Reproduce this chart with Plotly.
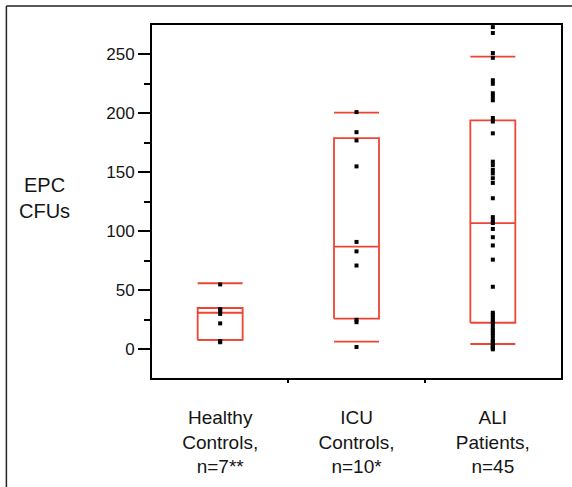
import plotly.graph_objects as go

categories = ["Healthy<br>Controls,<br>n=7**", "ICU<br>Controls,<br>n=10*", "ALI<br>Patients,<br>n=45"]

healthy_vals = [55, 34, 33, 30, 22, 7, 6]
icu_vals = [201, 184, 177, 155, 91, 83, 71, 25, 23, 2]
ali_vals = [273, 268, 251, 247, 228, 225, 217, 214, 211, 196, 193, 183,
            159, 156, 152, 149, 145, 141, 128, 112, 109, 107, 102, 95, 88,
            76, 53, 31, 29, 27, 25, 23, 21, 18, 16, 14, 12, 9, 7, 6, 4, 3, 2, 1, 0]

# box statistics
q1 = [8, 26, 22.5]
median = [31, 87, 107]
q3 = [35, 179, 194]
cap_low = [8, 6.5, 4.5]
cap_high = [56, 200.5, 248]

y_ticks = [0, 50, 100, 150, 200, 250]

RED = "#ee4433"
FONT = "Liberation Sans, Arial, Helvetica"
half = 0.165

fig = go.Figure()

groups = [healthy_vals, icu_vals, ali_vals]
for i in range(3):
    c = i
    xs = [c - half, c + half, c + half, c - half, c - half, None,
          c - half, c + half, None,
          c - half, c + half, None,
          c - half, c + half]
    ys = [q1[i], q1[i], q3[i], q3[i], q1[i], None,
          median[i], median[i], None,
          cap_high[i], cap_high[i], None,
          cap_low[i], cap_low[i]]
    fig.add_trace(go.Scatter(x=xs, y=ys, mode="lines",
                             line=dict(color=RED, width=1.8),
                             hoverinfo="skip", showlegend=False))

for i, vals in enumerate(groups):
    fig.add_trace(go.Scatter(x=[i] * len(vals), y=vals, mode="markers",
                             marker=dict(symbol="square", size=4, color="black",
                                         line=dict(width=0)),
                             showlegend=False, cliponaxis=True))

fig.update_xaxes(range=[-0.5, 2.5], tickmode="array", tickvals=[0, 1, 2],
                 ticktext=categories, ticks="", showgrid=False, zeroline=False,
                 showline=True, linecolor="black", linewidth=2, mirror=True,
                 automargin=False,
                 tickfont=dict(family=FONT, size=19, color="#151515"),
                 ticklabelstandoff=21,
                 minor=dict(tickmode="array", tickvals=[0.5, 1.5], ticks="outside",
                            ticklen=3, tickwidth=1.5, tickcolor="black"))
fig.update_yaxes(range=[-24.3, 274.8], tickmode="array", tickvals=y_ticks,
                 ticks="outside", ticklen=12, tickwidth=2, tickcolor="black",
                 showgrid=False, zeroline=False, automargin=False,
                 showline=True, linecolor="black", linewidth=2, mirror=True,
                 tickfont=dict(family=FONT, size=17, color="#151515"),
                 minor=dict(tick0=25, dtick=50, ticks="outside", ticklen=6,
                            tickwidth=1.5, tickcolor="black"))

fig.add_annotation(text="EPC<br>CFUs", xref="paper", yref="paper",
                   x=-0.262, y=0.51, xanchor="center", yanchor="middle",
                   showarrow=False, align="center",
                   font=dict(family=FONT, size=20, color="#151515"))

# outer frame of the figure panel
fig.add_shape(type="line", xref="paper", yref="paper", x0=-0.356, x1=1.1,
              y0=1.054, y1=1.054, line=dict(color="#222", width=1.5))
fig.add_shape(type="line", xref="paper", yref="paper", x0=-0.356, x1=-0.356,
              y0=1.054, y1=-0.35, line=dict(color="#222", width=1.5))

fig.update_layout(width=572, height=487,
                  margin=dict(l=152, r=11, t=25, b=109),
                  plot_bgcolor="white", paper_bgcolor="white")

fig.write_html("out.html", config={"displayModeBar": False},
               post_script="document.body.style.margin='0px';document.body.style.overflow='hidden';")
